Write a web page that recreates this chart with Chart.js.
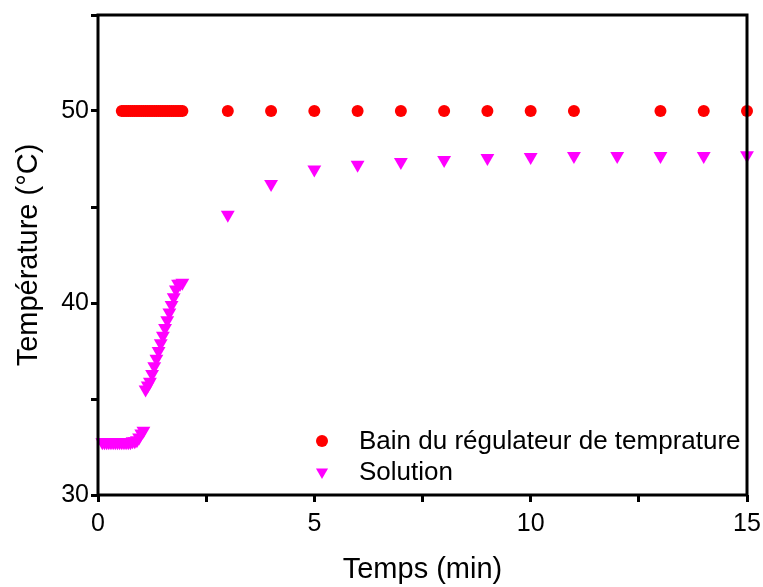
<!DOCTYPE html>
<html>
<head>
<meta charset="utf-8">
<script src="https://cdn.jsdelivr.net/npm/chart.js@4/dist/chart.umd.min.js"></script>
<style>
  html, body { margin: 0; padding: 0; background: #fff; }
  #wrap { width: 763px; height: 587px; }
</style>
</head>
<body>
<div id="wrap"><canvas id="c" width="763" height="587"></canvas></div>
<script>
// Bain du régulateur (red circles)
const bainTime = [0.55, 0.6, 0.65, 0.7, 0.75, 0.8, 0.85, 0.9, 0.95, 1.0, 1.05, 1.1, 1.15, 1.2, 1.25,
  1.3, 1.35, 1.4, 1.45, 1.5, 1.55, 1.6, 1.65, 1.7, 1.75, 1.8, 1.85, 1.9, 1.95,
  3, 4, 5, 6, 7, 8, 9, 10, 11, 13, 14, 15];
const bainTemp = [50, 50, 50, 50, 50, 50, 50, 50, 50, 50, 50, 50, 50, 50, 50,
  50, 50, 50, 50, 50, 50, 50, 50, 50, 50, 50, 50, 50, 50,
  50, 50, 50, 50, 50, 50, 50, 50, 50, 50, 50, 50];

// Solution (magenta triangles)
const solTime = [0.1, 0.15, 0.2, 0.25, 0.3, 0.35, 0.4, 0.45, 0.5, 0.55, 0.6, 0.65, 0.7, 0.75, 0.8, 0.85,
  0.9, 0.95, 1.0, 1.05, 1.1, 1.15, 1.2, 1.25, 1.3, 1.35, 1.4, 1.45, 1.5, 1.55, 1.6, 1.65, 1.7,
  1.75, 1.8, 1.85, 1.9, 1.95,
  3, 4, 5, 6, 7, 8, 9, 10, 11, 12, 13, 14, 15];
const solTemp = [32.75, 32.75, 32.75, 32.75, 32.75, 32.75, 32.75, 32.75, 32.75, 32.75, 32.75, 32.75, 32.75, 32.75, 32.8, 32.8,
  32.85, 33.0, 33.2, 33.35, 35.5, 35.7, 35.9, 36.3, 36.7, 37.1, 37.5, 37.9, 38.3, 38.7, 39.1, 39.5, 39.9,
  40.3, 40.7, 41.0, 41.0, 41.05,
  44.6, 46.2, 46.95, 47.2, 47.35, 47.45, 47.55, 47.6, 47.65, 47.65, 47.65, 47.65, 47.7];

const xTicksShown = [0, 5, 10, 15];
const yTicksShown = [30, 40, 50];

const labels = ['Bain du régulateur de temprature', 'Solution'];

const FONT = "'Liberation Sans', Arial, sans-serif";

const toPoints = (xs, ys) => xs.map((x, i) => ({ x: x, y: ys[i] }));

// frame + legend drawn on top of the points
const framePlugin = {
  id: 'frame',
  afterDatasetsDraw(chart) {
    const { ctx, chartArea: a } = chart;
    ctx.save();
    ctx.strokeStyle = '#000';
    ctx.lineWidth = 3;
    ctx.strokeRect(a.left, a.top, a.right - a.left, a.bottom - a.top);

    // legend
    const items = [
      { y: 441, style: 'circle', rot: 0, color: '#ff0000', r: 6 },
      { y: 472, style: 'triangle', rot: 180, color: '#ff00ff', r: 7 }
    ];
    ctx.font = '26px ' + FONT;
    ctx.textBaseline = 'middle';
    items.forEach((it, i) => {
      ctx.fillStyle = it.color;
      ctx.strokeStyle = it.color;
      Chart.helpers.drawPoint(ctx, {
        pointStyle: it.style, rotation: it.rot, radius: it.r, borderWidth: 0
      }, 322, it.y);
      ctx.fillStyle = '#000';
      ctx.fillText(labels[i], 359, it.y + 1);
    });
    ctx.restore();
  }
};

const ctx = document.getElementById('c').getContext('2d');
new Chart(ctx, {
  type: 'scatter',
  data: {
    datasets: [
      {
        label: labels[0],
        data: toPoints(bainTime, bainTemp),
        pointStyle: 'circle',
        pointRadius: 6,
        backgroundColor: '#ff0000',
        borderWidth: 0,
        clip: false
      },
      {
        label: labels[1],
        data: toPoints(solTime, solTemp),
        pointStyle: 'triangle',
        rotation: 180,
        pointRadius: 8,
        backgroundColor: '#ff00ff',
        borderWidth: 0,
        clip: false
      }
    ]
  },
  options: {
    responsive: false,
    animation: false,
    events: [],
    layout: { padding: { top: 15, right: 16, left: 0, bottom: 0 } },
    plugins: {
      legend: { display: false },
      tooltip: { enabled: false }
    },
    scales: {
      x: {
        type: 'linear',
        min: 0,
        max: 15,
        afterFit: s => { s.height = 92; s.paddingLeft = 0; s.paddingRight = 0; },
        border: { display: false },
        grid: { drawOnChartArea: false, tickLength: 7, lineWidth: 3, color: '#000' },
        ticks: {
          stepSize: 2.5,
          autoSkip: false,
          maxRotation: 0,
          padding: 7,
          color: '#000',
          font: { family: FONT, size: 25 },
          callback: v => xTicksShown.includes(v) ? String(v) : ''
        },
        title: {
          display: true,
          text: 'Temps (min)',
          color: '#000',
          font: { family: FONT, size: 29 },
          padding: { top: 0, bottom: 0 }
        }
      },
      y: {
        type: 'linear',
        min: 30,
        max: 55,
        afterFit: s => { s.width = 98; s.paddingTop = 0; s.paddingBottom = 0; },
        border: { display: false },
        grid: { drawOnChartArea: false, tickLength: 7, lineWidth: 3, color: '#000' },
        ticks: {
          stepSize: 5,
          autoSkip: false,
          padding: 2,
          color: '#000',
          font: { family: FONT, size: 25 },
          callback: v => yTicksShown.includes(v) ? String(v) : ''
        },
        title: {
          display: true,
          text: 'Température (°C)',
          color: '#000',
          font: { family: FONT, size: 29 },
          padding: { top: 12, bottom: 0 }
        }
      }
    }
  },
  plugins: [framePlugin]
});
</script>
</body>
</html>
